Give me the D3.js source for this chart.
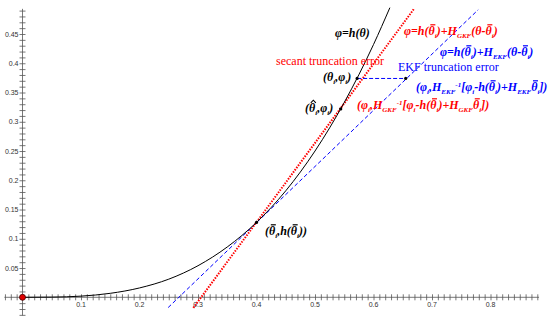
<!DOCTYPE html>
<html>
<head>
<meta charset="utf-8">
<script src="https://cdn.jsdelivr.net/npm/d3@7"></script>
<style>
  body { margin: 0; background: #fff; }
  svg text.tick-lbl { font-family: "Liberation Sans", Arial, sans-serif; font-size: 7px; fill: #333; }
  .eq { font-family: "Liberation Serif", "Times New Roman", serif; font-weight: bold; font-style: italic; font-size: 12px; }
  .plain { font-family: "Liberation Serif", "Times New Roman", serif; font-size: 12px; }
</style>
</head>
<body>
<div id="chart"></div>
<script>
// curve phi = h(theta)
var curveTheta = [0, 0.05, 0.1, 0.15, 0.2, 0.25, 0.3, 0.35, 0.4, 0.45, 0.5, 0.55, 0.6, 0.628];
var curvePhi   = [0, 0.0003, 0.002, 0.0068, 0.016, 0.031, 0.054, 0.086, 0.128, 0.182, 0.25, 0.333, 0.432, 0.495];

// secant (red dotted) and EKF tangent (blue dashed) end points
var secantTheta  = [0.292, 0.67];
var secantPhi    = [-0.018, 0.494];
var tangentTheta = [0.249, 0.779];
var tangentPhi   = [-0.0175, 0.4915];

// marked points: theta_bar, theta_hat, theta_i, EKF estimate
var pointTheta = [0.4, 0.544, 0.572, 0.655];
var pointPhi   = [0.128, 0.322, 0.374, 0.374];

var xLabels = [0.1, 0.2, 0.3, 0.4, 0.5, 0.6, 0.7, 0.8];
var yLabels = [0.05, 0.1, 0.15, 0.2, 0.25, 0.3, 0.35, 0.4, 0.45];

var width = 550, height = 321;

var svg = d3.select("#chart").append("svg")
  .attr("width", width)
  .attr("height", height);

var x = d3.scaleLinear().domain([0, 0.8]).range([22.5, 490.5]);
var y = d3.scaleLinear().domain([0, 0.45]).range([297.3, 34]);

// minor ticks every 0.01
var xTicks = d3.range(-3, 89).map(function(i){ return i / 100; });
var yTicks = d3.range(-3, 50).map(function(i){ return i / 100; });

// x axis line + cross ticks
var xAxis = svg.append("g")
  .attr("transform", "translate(0," + y(0) + ")")
  .call(d3.axisBottom(x).tickValues(xTicks).tickSize(6).tickFormat("").tickSizeOuter(0));
xAxis.selectAll(".tick line").attr("y1", -3).attr("y2", 3);
xAxis.select(".domain").attr("d", "M" + x(-0.031) + ",0H" + x(0.883));
xAxis.selectAll("line, path").attr("stroke", "#555").attr("stroke-width", 0.8);

var yAxis = svg.append("g")
  .attr("transform", "translate(" + x(0) + ",0)")
  .call(d3.axisLeft(y).tickValues(yTicks).tickSize(6).tickFormat("").tickSizeOuter(0));
yAxis.selectAll(".tick line").attr("x1", -3).attr("x2", 3);
yAxis.select(".domain").attr("d", "M0," + y(-0.031) + "V" + y(0.493));
yAxis.selectAll("line, path").attr("stroke", "#555").attr("stroke-width", 0.8);

// tick labels
svg.append("g").selectAll("text")
  .data(xLabels)
  .enter().append("text")
  .attr("class", "tick-lbl")
  .attr("x", function(d){ return x(d); })
  .attr("y", y(0) + 10)
  .attr("text-anchor", "middle")
  .text(function(d){ return d; });

svg.append("g").selectAll("text")
  .data(yLabels)
  .enter().append("text")
  .attr("class", "tick-lbl")
  .attr("x", x(0) - 4)
  .attr("y", function(d){ return y(d) + 2.5; })
  .attr("text-anchor", "end")
  .text(function(d){ return d; });

var line = d3.line()
  .x(function(d){ return x(d[0]); })
  .y(function(d){ return y(d[1]); });

// EKF tangent
svg.append("path")
  .datum(d3.zip(tangentTheta, tangentPhi))
  .attr("d", line)
  .attr("fill", "none")
  .attr("stroke", "#0000ff")
  .attr("stroke-width", 1)
  .attr("stroke-dasharray", "4,2.5");

// secant
svg.append("path")
  .datum(d3.zip(secantTheta, secantPhi))
  .attr("d", line)
  .attr("fill", "none")
  .attr("stroke", "#ff0000")
  .attr("stroke-width", 2)
  .attr("stroke-dasharray", "1.5,1.3");

// the curve
svg.append("path")
  .datum(d3.zip(curveTheta, curvePhi))
  .attr("d", line.curve(d3.curveMonotoneX))
  .attr("fill", "none")
  .attr("stroke", "#000")
  .attr("stroke-width", 1);

// EKF truncation error segment
svg.append("line")
  .attr("x1", x(pointTheta[2])).attr("y1", y(pointPhi[2]))
  .attr("x2", x(pointTheta[3])).attr("y2", y(pointPhi[3]))
  .attr("stroke", "#0000ff")
  .attr("stroke-width", 1)
  .attr("stroke-dasharray", "4,2");

svg.append("g").selectAll("circle")
  .data(d3.zip(pointTheta, pointPhi))
  .enter().append("circle")
  .attr("cx", function(d){ return x(d[0]); })
  .attr("cy", function(d){ return y(d[1]); })
  .attr("r", 1.6)
  .attr("fill", "#000");

// origin point
svg.append("circle")
  .attr("cx", x(0)).attr("cy", y(0))
  .attr("r", 3)
  .attr("fill", "#e00000")
  .attr("stroke", "#400")
  .attr("stroke-width", 0.8);

// labels -----------------------------------------------------------
var marks = svg.append("g");

function label(px, py, color, parts) {
  var t = svg.append("text")
    .attr("class", "eq")
    .attr("x", px).attr("y", py)
    .attr("fill", color);
  var shift = 0, accents = [];
  parts.forEach(function(p){
    var s = typeof p === "string" ? {t: p} : p;
    var want = s.sub ? 3 : (s.sup ? -4 : 0);
    var ts = t.append("tspan").text(s.t);
    if (want !== shift) ts.attr("dy", want - shift);
    if (s.sub || s.sup) ts.attr("font-size", 7);
    if (s.bar || s.hat) accents.push({node: ts.node(), hat: !!s.hat});
    shift = want;
  });
  if (shift !== 0) t.append("tspan").attr("dy", -shift).text("");
  // bars and hats drawn over the theta glyphs
  accents.forEach(function(a){
    var p0 = a.node.getStartPositionOfChar(0);
    var w = a.node.getComputedTextLength();
    var x0 = p0.x + 1.8, x1 = p0.x + w + 0.6, yy = p0.y - 10.2;
    if (a.hat) {
      marks.append("path")
        .attr("d", "M" + x0 + "," + (yy + 1) + "L" + ((x0 + x1) / 2) + "," + (yy - 1.6) + "L" + x1 + "," + (yy + 1))
        .attr("fill", "none").attr("stroke", color).attr("stroke-width", 1.1);
    } else {
      marks.append("line")
        .attr("x1", x0).attr("x2", x1).attr("y1", yy).attr("y2", yy)
        .attr("stroke", color).attr("stroke-width", 1.2);
    }
  });
  return t;
}

var TB = {t: "θ", bar: 1}, TH = {t: "θ", hat: 1}, SI = {t: "i", sub: 1};

label(335, 37, "#000", ["φ=h(θ)"]);
label(404, 35, "#ff0000", ["φ=h(", TB, SI, ")+H", {t: "GKF", sub: 1}, "(θ-", TB, SI, ")"]);
label(440, 56, "#0000ff", ["φ=h(", TB, SI, ")+H", {t: "EKF", sub: 1}, "(θ-", TB, SI, ")"]);

svg.append("text").attr("class", "plain")
  .attr("x", 276).attr("y", 65)
  .attr("fill", "#ff0000")
  .text("secant truncation error");
svg.append("text").attr("class", "plain")
  .attr("x", 398).attr("y", 71)
  .attr("fill", "#0000ff")
  .text("EKF truncation error");

label(323, 81, "#000", ["(θ", SI, ",φ", SI, ")"]);
label(416, 91, "#0000ff", ["(φ", SI, ",H", {t: "EKF", sub: 1}, {t: "-1", sup: 1}, "[φ", SI,
  "-h(", TB, SI, ")+H", {t: "EKF", sub: 1}, TB, SI, "])"]);
label(305, 112, "#000", ["(", TH, SI, ",φ", SI, ")"]);
label(357, 109, "#ff0000", ["(φ", SI, ",H", {t: "GKF", sub: 1}, {t: "-1", sup: 1}, "[φ", SI,
  "-h(", TB, SI, ")+H", {t: "GKF", sub: 1}, TB, SI, "])"]);
label(265, 235, "#000", ["(", TB, SI, ",h(", TB, SI, "))"]);
</script>
</body>
</html>
